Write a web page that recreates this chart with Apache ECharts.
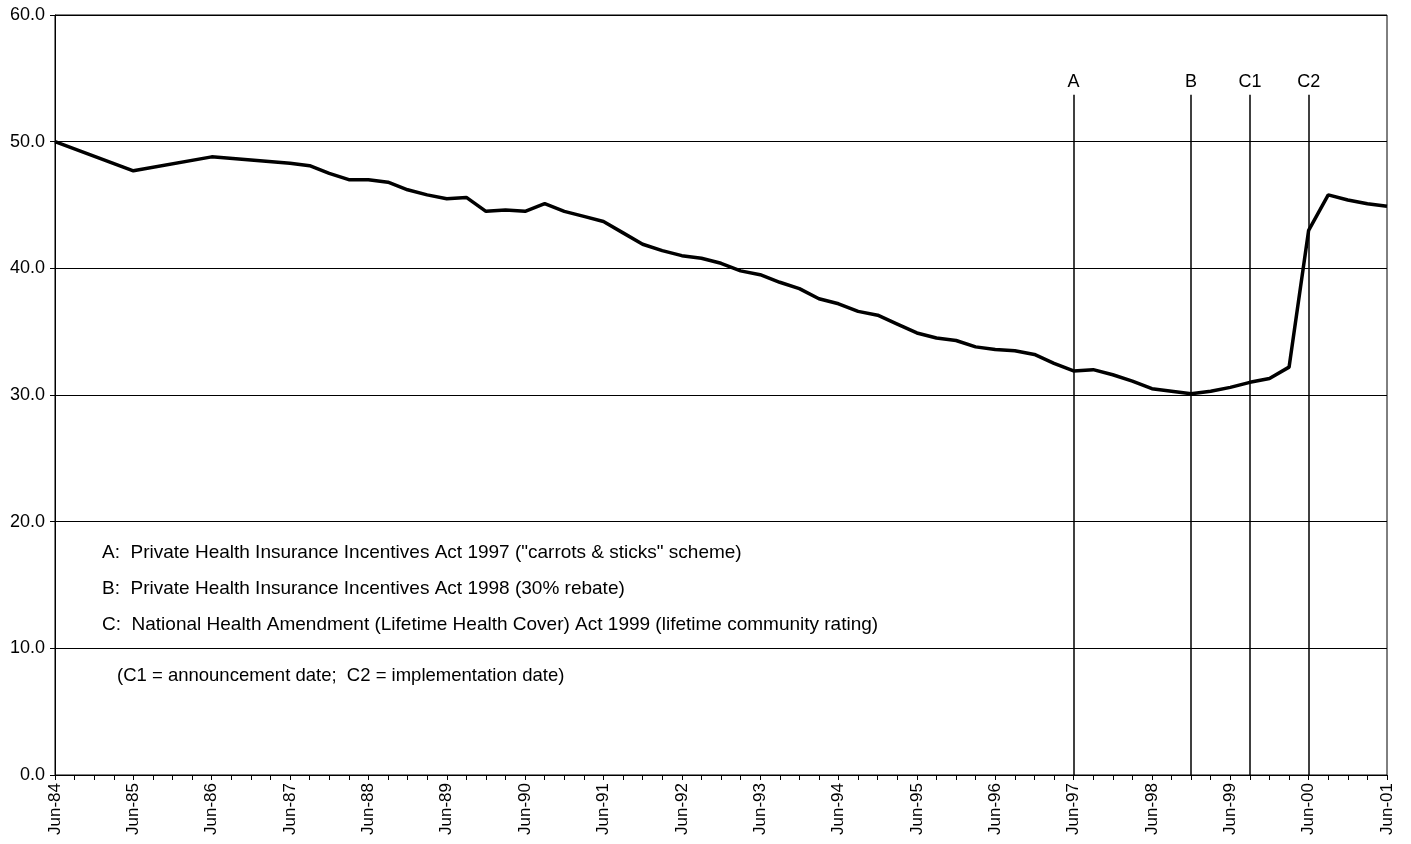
<!DOCTYPE html>
<html>
<head>
<meta charset="utf-8">
<script src="https://cdn.jsdelivr.net/npm/echarts@6/dist/echarts.min.js"></script>
<style>
html,body{margin:0;padding:0;background:#fff;}
#chart{width:1411px;height:844px;}
</style>
</head>
<body>
<div id="chart"></div>
<script>
var categories = [
 'Jun-84','Sep-84','Dec-84','Mar-85','Jun-85','Sep-85','Dec-85','Mar-86',
 'Jun-86','Sep-86','Dec-86','Mar-87','Jun-87','Sep-87','Dec-87','Mar-88',
 'Jun-88','Sep-88','Dec-88','Mar-89','Jun-89','Sep-89','Dec-89','Mar-90',
 'Jun-90','Sep-90','Dec-90','Mar-91','Jun-91','Sep-91','Dec-91','Mar-92',
 'Jun-92','Sep-92','Dec-92','Mar-93','Jun-93','Sep-93','Dec-93','Mar-94',
 'Jun-94','Sep-94','Dec-94','Mar-95','Jun-95','Sep-95','Dec-95','Mar-96',
 'Jun-96','Sep-96','Dec-96','Mar-97','Jun-97','Sep-97','Dec-97','Mar-98',
 'Jun-98','Sep-98','Dec-98','Mar-99','Jun-99','Sep-99','Dec-99','Mar-00',
 'Jun-00','Sep-00','Dec-00','Mar-01','Jun-01'
];
var coverage = [
 50.0, null, null, null, 47.7, null, null, null,
 48.8, null, null, null, 48.3, 48.1, 47.5, 47.0,
 47.0, 46.8, 46.2, 45.8, 45.5, 45.6, 44.5, 44.6,
 44.5, 45.1, 44.5, 44.1, 43.7, 42.8, 41.9, 41.4,
 41.0, 40.8, 40.4, 39.8, 39.5, 38.9, 38.4, 37.6,
 37.2, 36.6, 36.3, 35.6, 34.9, 34.5, 34.3, 33.8,
 33.6, 33.5, 33.2, 32.5, 31.9, 32.0, 31.6, 31.1,
 30.5, 30.3, 30.1, 30.3, 30.6, 31.0, 31.3, 32.2,
 43.0, 45.8, 45.4, 45.1, 44.9
];
var eventNames = ['A', 'B', 'C1', 'C2'];
var eventDates = ['Jun-97', 'Dec-98', 'Sep-99', 'Jun-00'];
var eventLineTop = 53.7;
var notes = [
 'A:  Private Health Insurance Incentives Act 1997 ("carrots & sticks" scheme)',
 'B:  Private Health Insurance Incentives Act 1998 (30% rebate)',
 'C:  National Health Amendment (Lifetime Health Cover) Act 1999 (lifetime community rating)'
];
var subNote = '(C1 = announcement date;  C2 = implementation date)';

var FONT = 'Liberation Sans, Arial, sans-serif';
var chart = echarts.init(document.getElementById('chart'), null, {renderer: 'canvas'});

var markData = eventNames.map(function (n, i) {
  return [
    {coord: [eventDates[i], 0], name: n},
    {coord: [eventDates[i], eventLineTop]}
  ];
});

var graphics = notes.map(function (t, i) {
  return {
    type: 'text', left: 102, top: 543 + i * 36,
    style: {text: t, fill: '#000', font: '19px ' + FONT}
  };
});
graphics.push({
  type: 'text', left: 117, top: 666,
  style: {text: subNote, fill: '#000', font: '18.5px ' + FONT}
});

chart.setOption({
  backgroundColor: '#fff',
  animation: false,
  grid: {left: 55, right: 24, top: 15, bottom: 69, show: true, borderColor: '#000', borderWidth: 1},
  xAxis: {
    type: 'category',
    data: categories,
    boundaryGap: false,
    axisLine: {lineStyle: {color: '#000', width: 1}},
    axisTick: {show: true, interval: 0, length: 5, lineStyle: {color: '#000'}},
    axisLabel: {interval: 3, rotate: 90, color: '#000', fontSize: 17, fontFamily: FONT, margin: 8},
    splitLine: {show: false}
  },
  yAxis: {
    type: 'value', min: 0, max: 60, interval: 10,
    axisLine: {show: true, lineStyle: {color: '#000'}},
    axisTick: {show: true, length: 5, lineStyle: {color: '#000'}},
    axisLabel: {color: '#000', fontSize: 18, fontFamily: FONT, margin: 10,
      formatter: function (v) { return v.toFixed(1); }},
    splitLine: {show: true, lineStyle: {color: '#000', width: 1}}
  },
  graphic: graphics,
  series: [{
    type: 'line',
    data: coverage,
    connectNulls: true,
    symbol: 'none',
    lineStyle: {color: '#000', width: 3.5},
    markLine: {
      silent: true,
      symbol: ['none', 'none'],
      lineStyle: {color: '#000', width: 1.5, type: 'solid'},
      label: {show: true, position: 'end', formatter: '{b}', color: '#000', fontSize: 18, fontFamily: FONT, distance: 4},
      data: markData
    }
  }]
});
</script>
</body>
</html>
